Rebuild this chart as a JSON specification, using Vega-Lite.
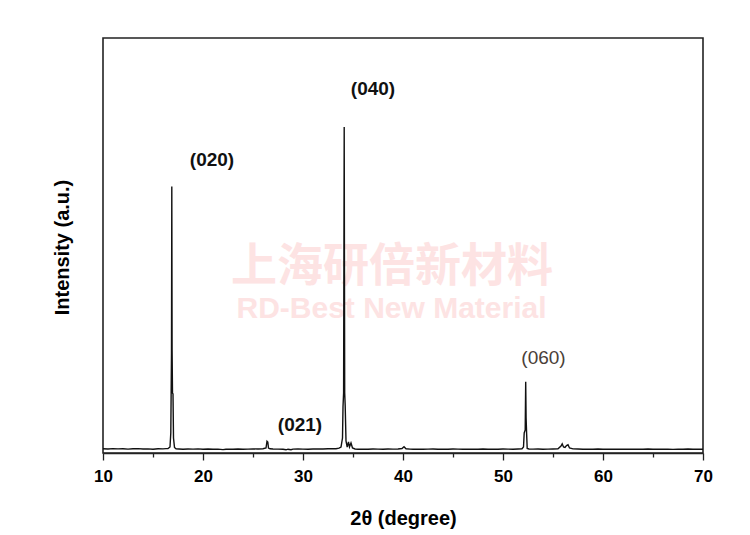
{
  "$schema": "https://vega.github.io/schema/vega-lite/v6.json",
  "width": 600,
  "height": 415,
  "autosize": {"type": "none"},
  "padding": {"left": 103, "top": 38, "right": 47, "bottom": 82},
  "background": "white",
  "config": {
    "view": {"stroke": "#222", "strokeWidth": 1.6},
    "font": "Liberation Sans"
  },
  "datasets": {
    "xrd": [
      {"t": 10, "i": 42}, {"t": 10.5, "i": 40}, {"t": 11, "i": 44}, {"t": 11.5, "i": 41}, {"t": 12, "i": 43},
      {"t": 12.5, "i": 39}, {"t": 13, "i": 42}, {"t": 13.5, "i": 44}, {"t": 14, "i": 40}, {"t": 14.5, "i": 41},
      {"t": 15, "i": 38}, {"t": 15.5, "i": 42}, {"t": 16, "i": 41}, {"t": 16.3, "i": 44}, {"t": 16.5, "i": 45},
      {"t": 16.7, "i": 60}, {"t": 16.78, "i": 200}, {"t": 16.85, "i": 1000}, {"t": 16.88, "i": 2665}, {"t": 16.91, "i": 1030},
      {"t": 16.95, "i": 600}, {"t": 17.0, "i": 590}, {"t": 17.05, "i": 150}, {"t": 17.15, "i": 55}, {"t": 17.3, "i": 42},
      {"t": 17.6, "i": 40}, {"t": 18, "i": 38}, {"t": 18.5, "i": 40}, {"t": 19, "i": 39}, {"t": 19.5, "i": 41},
      {"t": 20, "i": 38}, {"t": 20.5, "i": 40}, {"t": 21, "i": 37}, {"t": 21.5, "i": 39}, {"t": 22, "i": 34},
      {"t": 22.3, "i": 38}, {"t": 22.5, "i": 39}, {"t": 23, "i": 38}, {"t": 23.5, "i": 40}, {"t": 24, "i": 38},
      {"t": 24.5, "i": 39}, {"t": 25, "i": 41}, {"t": 25.5, "i": 40}, {"t": 26, "i": 42}, {"t": 26.3, "i": 50},
      {"t": 26.4, "i": 118}, {"t": 26.48, "i": 110}, {"t": 26.55, "i": 50}, {"t": 26.7, "i": 42}, {"t": 27, "i": 40},
      {"t": 27.5, "i": 39}, {"t": 28, "i": 37}, {"t": 28.3, "i": 32}, {"t": 28.5, "i": 38}, {"t": 28.8, "i": 33},
      {"t": 29, "i": 39}, {"t": 29.5, "i": 40}, {"t": 30, "i": 39}, {"t": 30.5, "i": 38}, {"t": 31, "i": 40},
      {"t": 31.5, "i": 41}, {"t": 32, "i": 40}, {"t": 32.5, "i": 43}, {"t": 33, "i": 44}, {"t": 33.3, "i": 42},
      {"t": 33.6, "i": 48}, {"t": 33.8, "i": 60}, {"t": 33.95, "i": 150}, {"t": 34.0, "i": 460}, {"t": 34.06, "i": 600},
      {"t": 34.12, "i": 3260}, {"t": 34.17, "i": 600}, {"t": 34.22, "i": 470}, {"t": 34.3, "i": 120}, {"t": 34.42, "i": 60},
      {"t": 34.55, "i": 110}, {"t": 34.65, "i": 60}, {"t": 34.8, "i": 100}, {"t": 34.95, "i": 50}, {"t": 35.2, "i": 40},
      {"t": 35.5, "i": 38}, {"t": 36, "i": 39}, {"t": 36.5, "i": 38}, {"t": 37, "i": 40}, {"t": 37.5, "i": 39},
      {"t": 38, "i": 38}, {"t": 38.5, "i": 40}, {"t": 39, "i": 39}, {"t": 39.5, "i": 40}, {"t": 39.9, "i": 45},
      {"t": 40.1, "i": 62}, {"t": 40.3, "i": 42}, {"t": 40.7, "i": 39}, {"t": 41, "i": 38}, {"t": 41.5, "i": 39},
      {"t": 42, "i": 38}, {"t": 42.5, "i": 39}, {"t": 43, "i": 40}, {"t": 43.5, "i": 38}, {"t": 44, "i": 39},
      {"t": 44.5, "i": 38}, {"t": 45, "i": 40}, {"t": 45.5, "i": 39}, {"t": 46, "i": 38}, {"t": 46.5, "i": 37},
      {"t": 47, "i": 39}, {"t": 47.5, "i": 38}, {"t": 48, "i": 40}, {"t": 48.5, "i": 38}, {"t": 49, "i": 39},
      {"t": 49.5, "i": 38}, {"t": 50, "i": 40}, {"t": 50.5, "i": 39}, {"t": 51, "i": 38}, {"t": 51.5, "i": 40},
      {"t": 51.9, "i": 42}, {"t": 52.05, "i": 60}, {"t": 52.12, "i": 200}, {"t": 52.22, "i": 230}, {"t": 52.27, "i": 713},
      {"t": 52.31, "i": 350}, {"t": 52.36, "i": 200}, {"t": 52.42, "i": 45}, {"t": 52.6, "i": 40}, {"t": 53, "i": 39},
      {"t": 53.5, "i": 40}, {"t": 54, "i": 38}, {"t": 54.5, "i": 39}, {"t": 55, "i": 40}, {"t": 55.5, "i": 42},
      {"t": 55.8, "i": 70}, {"t": 55.92, "i": 92}, {"t": 56.05, "i": 60}, {"t": 56.2, "i": 55}, {"t": 56.35, "i": 75},
      {"t": 56.5, "i": 82}, {"t": 56.65, "i": 50}, {"t": 57, "i": 41}, {"t": 57.5, "i": 40}, {"t": 58, "i": 38},
      {"t": 58.5, "i": 39}, {"t": 59, "i": 37}, {"t": 59.5, "i": 40}, {"t": 60, "i": 38}, {"t": 60.5, "i": 39},
      {"t": 61, "i": 37}, {"t": 61.5, "i": 39}, {"t": 62, "i": 38}, {"t": 62.5, "i": 39}, {"t": 63, "i": 37},
      {"t": 63.5, "i": 39}, {"t": 64, "i": 38}, {"t": 64.5, "i": 40}, {"t": 65, "i": 38}, {"t": 65.5, "i": 39},
      {"t": 66, "i": 37}, {"t": 66.5, "i": 39}, {"t": 67, "i": 36}, {"t": 67.5, "i": 39}, {"t": 68, "i": 38},
      {"t": 68.5, "i": 40}, {"t": 69, "i": 37}, {"t": 69.5, "i": 39}, {"t": 70, "i": 38}
    ],
    "boldLabels": [
      {"label": "(020)", "t": 20.9, "i": 2870},
      {"label": "(040)", "t": 37.0, "i": 3580},
      {"label": "(021)", "t": 29.7, "i": 220}
    ],
    "plainLabels": [
      {"label": "(060)", "t": 54.05, "i": 890}
    ],
    "markCn": [
      {"label": "上海研倍新材料", "t": 38.9, "i": 1860}
    ],
    "markEn": [
      {"label": "RD-Best New Material", "t": 38.85, "i": 1440}
    ]
  },
  "encoding": {
    "x": {
      "field": "t",
      "type": "quantitative",
      "scale": {"domain": [10, 70], "nice": false, "zero": false},
      "axis": {
        "title": "2θ (degree)",
        "values": [10, 15, 20, 25, 30, 35, 40, 45, 50, 55, 60, 65, 70],
        "labelExpr": "datum.value % 10 === 0 ? datum.label : ''",
        "labelFlush": false,
        "labelOverlap": false,
        "grid": false,
        "domain": true,
        "domainColor": "#222",
        "domainWidth": 1.6,
        "ticks": true,
        "tickColor": "#222",
        "tickWidth": 1.3,
        "tickSize": {"condition": {"test": "datum.value % 10 === 0", "value": 7}, "value": 4},
        "labelFontSize": 17,
        "labelFontWeight": "bold",
        "labelColor": "#000",
        "labelPadding": 8,
        "labelFont": "Liberation Sans",
        "titleFont": "Liberation Sans",
        "titleFontSize": 20,
        "titleFontWeight": "bold",
        "titleColor": "#000",
        "titleY": 71,
        "titleBaseline": "alphabetic"
      }
    },
    "y": {
      "field": "i",
      "type": "quantitative",
      "scale": {"domain": [0, 4150], "nice": false, "zero": false},
      "axis": {
        "title": "Intensity (a.u.)",
        "labels": false,
        "ticks": false,
        "domain": false,
        "grid": false,
        "titleFont": "Liberation Sans",
        "titleFontSize": 20,
        "titleFontWeight": "bold",
        "titleColor": "#000",
        "titleAngle": -90,
        "titleX": -35,
        "titleY": 209,
        "titleAlign": "center",
        "titleBaseline": "alphabetic"
      }
    }
  },
  "layer": [
    {
      "data": {"name": "markCn"},
      "mark": {"type": "text", "font": "Noto Sans CJK SC", "fontWeight": "bold", "fontSize": 46, "color": "#fde3e3", "baseline": "middle", "align": "center"},
      "encoding": {"text": {"field": "label"}}
    },
    {
      "data": {"name": "markEn"},
      "mark": {"type": "text", "font": "Liberation Sans", "fontWeight": "bold", "fontSize": 30, "color": "#fde3e3", "baseline": "middle", "align": "center"},
      "encoding": {"text": {"field": "label"}}
    },
    {
      "data": {"name": "xrd"},
      "mark": {"type": "line", "color": "#111", "strokeWidth": 1.4, "interpolate": "linear"}
    },
    {
      "data": {"name": "boldLabels"},
      "mark": {"type": "text", "font": "Liberation Sans", "fontWeight": "bold", "fontSize": 19, "color": "#111", "baseline": "alphabetic", "align": "center"},
      "encoding": {"text": {"field": "label"}}
    },
    {
      "data": {"name": "plainLabels"},
      "mark": {"type": "text", "font": "Liberation Sans", "fontSize": 19, "color": "#4a4038", "baseline": "alphabetic", "align": "center"},
      "encoding": {"text": {"field": "label"}}
    }
  ]
}
